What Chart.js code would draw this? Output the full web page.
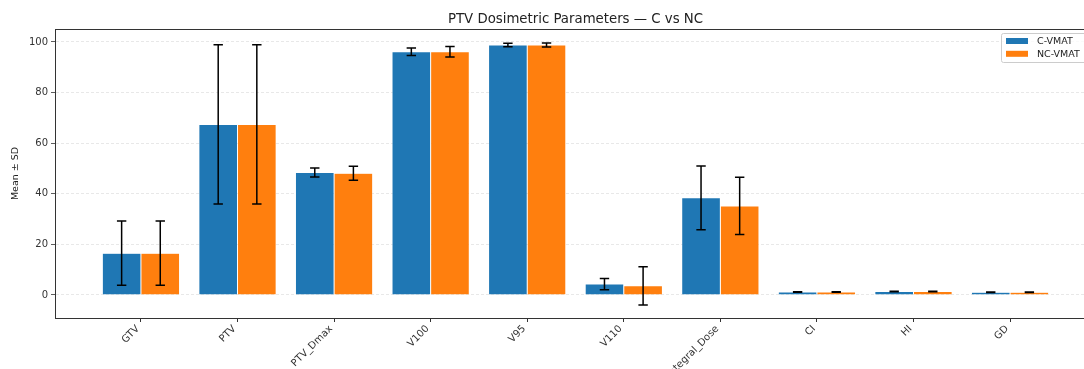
<!DOCTYPE html>
<html>
<head>
<meta charset="utf-8">
<title>PTV Dosimetric Parameters</title>
<script src="https://cdn.jsdelivr.net/npm/chart.js@4.4.0/dist/chart.umd.min.js"></script>
<style>
  html, body { margin: 0; padding: 0; background: #fff; overflow: hidden; }
  #wrap { width: 1110px; height: 369px; }
</style>
</head>
<body>
<div id="wrap"><canvas id="chart" width="1110" height="369"></canvas></div>
<script>
// Data
const categories = ['GTV', 'PTV', 'PTV_Dmax', 'V100', 'V95', 'V110', 'Integral_Dose', 'CI', 'HI', 'GD'];
const cMeans  = [16.5, 67.4, 48.4, 96.1, 98.8, 4.3, 38.4, 1.15, 1.4, 1.1];
const cSD     = [12.7, 31.5, 1.8, 1.5, 0.7, 2.2, 12.6, 0.1, 0.1, 0.1];
const ncMeans = [16.5, 67.4, 48.1, 96.1, 98.8, 3.6, 35.2, 1.15, 1.4, 1.1];
const ncSD    = [12.7, 31.5, 2.8, 2.1, 0.8, 7.6, 11.3, 0.1, 0.1, 0.1];
const yTicks  = [0, 20, 40, 60, 80, 100];

const BLUE = '#1f77b4';
const ORANGE = '#ff7f0e';
const FONT = 'DejaVu Sans';

function toPoints(values) {
  return values.map((v, i) => ({ x: i, y: v }));
}

// Error bars drawn from the y scale
const errorBarPlugin = {
  id: 'errorBars',
  afterDatasetsDraw(chart) {
    const ctx = chart.ctx;
    const yScale = chart.scales.y;
    const sds = [cSD, ncSD];
    ctx.save();
    ctx.strokeStyle = '#000';
    ctx.lineWidth = 1.5;
    chart.data.datasets.forEach((ds, d) => {
      const meta = chart.getDatasetMeta(d);
      meta.data.forEach((bar, i) => {
        const mean = ds.data[i].y;
        const sd = sds[d][i];
        const top = yScale.getPixelForValue(mean + sd);
        const bottom = yScale.getPixelForValue(mean - sd);
        const cap = 4.7;
        ctx.beginPath();
        ctx.moveTo(bar.x, top);
        ctx.lineTo(bar.x, bottom);
        ctx.moveTo(bar.x - cap, top);
        ctx.lineTo(bar.x + cap, top);
        ctx.moveTo(bar.x - cap, bottom);
        ctx.lineTo(bar.x + cap, bottom);
        ctx.stroke();
      });
    });
    ctx.restore();
  }
};

// Frame, title and legend in matplotlib style
const decorPlugin = {
  id: 'decor',
  afterDraw(chart) {
    const ctx = chart.ctx;
    const area = chart.chartArea;
    ctx.save();

    // axes frame
    ctx.strokeStyle = '#333';
    ctx.lineWidth = 1;
    ctx.strokeRect(Math.round(area.left) + 0.5, Math.round(area.top) + 0.5,
      Math.round(area.right - area.left), Math.round(area.bottom - area.top));

    // title centred over the axes
    ctx.fillStyle = '#222';
    ctx.font = '13.3px "' + FONT + '"';
    ctx.textAlign = 'center';
    ctx.textBaseline = 'middle';
    ctx.fillText('PTV Dosimetric Parameters \u2014 C vs NC', (area.left + area.right) / 2, 20);

    // legend box
    const w = 90, h = 29;
    const lx = area.right - 5 - w;
    const ly = area.top + 4;
    ctx.fillStyle = 'rgba(255,255,255,0.8)';
    ctx.strokeStyle = '#cccccc';
    ctx.beginPath();
    ctx.roundRect(lx + 0.5, ly + 0.5, w, h, 2);
    ctx.fill();
    ctx.stroke();

    ctx.font = '9.5px "' + FONT + '"';
    ctx.textAlign = 'left';
    chart.data.datasets.forEach((ds, d) => {
      const ry = ly + 5 + d * 12.8;
      ctx.fillStyle = ds.backgroundColor;
      ctx.fillRect(lx + 5, ry, 22, 6);
      ctx.fillStyle = '#222';
      ctx.fillText(ds.label, lx + 36, ry + 3.5);
    });

    ctx.restore();
  }
};

new Chart(document.getElementById('chart'), {
  type: 'bar',
  data: {
    datasets: [
      {
        label: 'C-VMAT',
        data: toPoints(cMeans),
        backgroundColor: BLUE,
        borderColor: 'rgba(255,255,255,0.35)',
        borderWidth: 0.5,
        categoryPercentage: 0.8,
        barPercentage: 1.0
      },
      {
        label: 'NC-VMAT',
        data: toPoints(ncMeans),
        backgroundColor: ORANGE,
        borderColor: 'rgba(255,255,255,0.35)',
        borderWidth: 0.5,
        categoryPercentage: 0.8,
        barPercentage: 1.0
      }
    ]
  },
  options: {
    responsive: false,
    animation: false,
    layout: { padding: { top: 29, right: 14, left: 0, bottom: 0 } },
    plugins: {
      legend: { display: false },
      title: { display: false },
      tooltip: { enabled: false }
    },
    scales: {
      x: {
        type: 'linear',
        offset: false,
        min: -0.89,
        max: 9.89,
        afterBuildTicks: (axis) => {
          axis.ticks = categories.map((_, i) => ({ value: i }));
        },
        afterFit: (axis) => { axis.height = 51; },
        grid: {
          display: true,
          offset: false,
          drawOnChartArea: false,
          drawTicks: true,
          tickLength: 4,
          tickColor: '#333'
        },
        border: { display: true, color: '#333' },
        ticks: {
          autoSkip: false,
          minRotation: 45,
          maxRotation: 45,
          padding: 1,
          labelOffset: -3,
          color: '#333',
          font: { family: FONT, size: 10 },
          callback: (value) => categories[value]
        }
      },
      y: {
        min: -9.1,
        max: 105.1,
        afterBuildTicks: (axis) => {
          axis.ticks = yTicks.map(v => ({ value: v }));
        },
        afterFit: (axis) => { axis.width = 55; },
        grid: {
          color: '#e2e2e2',
          lineWidth: 0.8,
          drawTicks: true,
          tickLength: 4,
          tickColor: '#333'
        },
        border: { display: true, color: '#333', dash: [3, 2] },
        ticks: {
          padding: 3,
          color: '#333',
          font: { family: FONT, size: 10 }
        },
        title: {
          display: true,
          text: 'Mean \u00b1 SD',
          color: '#222',
          padding: { top: 10, bottom: 0 },
          font: { family: FONT, size: 9.5 }
        }
      }
    }
  },
  plugins: [errorBarPlugin, decorPlugin]
});
</script>
</body>
</html>
